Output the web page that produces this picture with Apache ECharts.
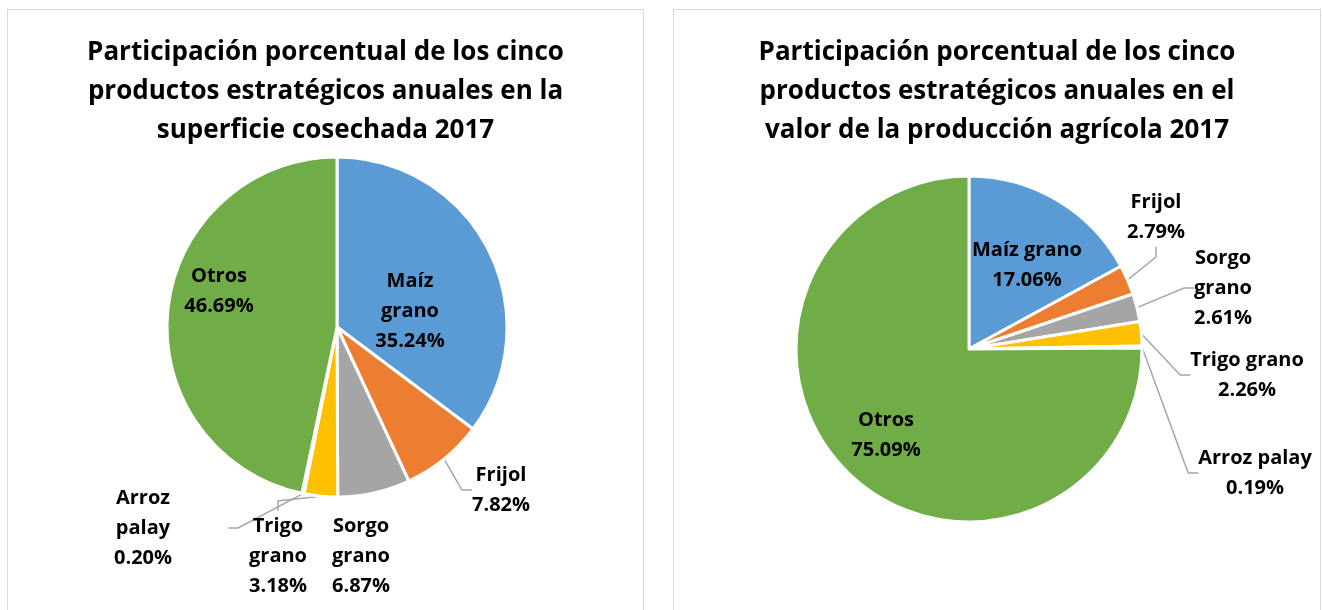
<!DOCTYPE html>
<html>
<head>
<meta charset="utf-8">
<script src="https://cdn.jsdelivr.net/npm/echarts@6/dist/echarts.min.js"></script>
<style>
  body { margin: 0; background: #fff; width: 1322px; height: 610px; overflow: hidden; position: relative; }
  .panel { position: absolute; top: 9px; height: 620px; border: 1px solid #d9d9d9; background: #fff; }
  .chart { width: 100%; height: 100%; }
</style>
</head>
<body>
<div class="panel" style="left:7px;width:635px;"><div id="left" class="chart"></div></div>
<div class="panel" style="left:673px;width:646px;"><div id="right" class="chart"></div></div>
<script>
// productos (mismo orden en las dos graficas)
var categorias = ['Maíz grano', 'Frijol', 'Sorgo grano', 'Trigo grano', 'Arroz palay', 'Otros'];
var colores = ['#5B9BD5', '#ED7D31', '#A5A5A5', '#FFC000', '#4472C4', '#70AD47'];

// superficie cosechada 2017 (%)
var superficie = [35.24, 7.82, 6.87, 3.18, 0.20, 46.69];
// valor de la produccion agricola 2017 (%)
var valor = [17.06, 2.79, 2.61, 2.26, 0.19, 75.09];

// texto de cada etiqueta (como en el original)
var etiquetasSup = ['Maíz\ngrano', 'Frijol', 'Sorgo\ngrano', 'Trigo\ngrano', 'Arroz\npalay', 'Otros'];
var etiquetasVal = ['Maíz grano', 'Frijol', 'Sorgo\ngrano', 'Trigo grano', 'Arroz palay', 'Otros'];

var tituloSup = 'Participación porcentual de los cinco\nproductos estratégicos anuales en la\nsuperficie cosechada 2017';
var tituloVal = 'Participación porcentual de los cinco\nproductos estratégicos anuales en el\nvalor de la producción agrícola 2017';

var fuente = '"Open Sans", Lato, sans-serif';

// donde cae el centro de cada etiqueta
var posSup = [[402, 301], [493, 480], [353, 546], [270, 546], [135, 518], [211, 281]];
var posVal = [[353, 255], [482, 207], [549, 278], [573, 365], [581, 463], [212, 425]];
var conLinea = [false, true, false, true, true, false];
var conLineaVal = [false, true, true, true, true, false];
// relleno horizontal de la caja (para que la linea llegue como en Excel)
var rellenoSup = [0, 0, 0, 0, 58, 0];
var rellenoVal = [0, 0, 0, 0, 0, 0];

function armar(dom, titulo, valores, etiquetas, pos, lineas, relleno, centro, radio) {
    var chart = echarts.init(dom);
    var datos = [];
    for (var i = 0; i < valores.length; i++) {
        datos.push({
            name: etiquetas[i],
            value: valores[i],
            itemStyle: { color: colores[i] },
            label: { padding: [0, relleno[i]] },
            labelLine: { show: lineas[i] }
        });
    }
    var option = {
        animation: false,
        title: {
            text: titulo,
            left: 'center',
            top: 18,
            textStyle: {
                fontFamily: fuente,
                fontSize: 26,
                fontWeight: 'bold',
                color: '#000',
                lineHeight: 39
            }
        },
        series: [{
            type: 'pie',
            center: centro,
            radius: radio,
            startAngle: 90,
            clockwise: true,
            itemStyle: { borderColor: '#fff', borderWidth: 3 },
            label: {
                show: true,
                position: 'outside',
                formatter: function (p) { return p.name + '\n' + p.value.toFixed(2) + '%'; },
                fontFamily: fuente,
                fontSize: 20,
                fontWeight: 'bold',
                color: '#000',
                lineHeight: 30,
                align: 'center',
                overflow: 'none'
            },
            labelLine: {
                lineStyle: { color: '#a6a6a6', width: 1.5 },
                length: 10,
                length2: 10
            },
            labelLayout: function (params) {
                var p = pos[params.dataIndex];
                return { x: p[0], y: p[1], align: 'center', verticalAlign: 'middle' };
            },
            data: datos
        }]
    };
    chart.setOption(option);
    return chart;
}

armar(document.getElementById('left'), tituloSup, superficie, etiquetasSup, posSup, conLinea, rellenoSup, [329, 317], 170);
armar(document.getElementById('right'), tituloVal, valor, etiquetasVal, posVal, conLineaVal, rellenoVal, [295, 339], 173);
</script>
</body>
</html>
